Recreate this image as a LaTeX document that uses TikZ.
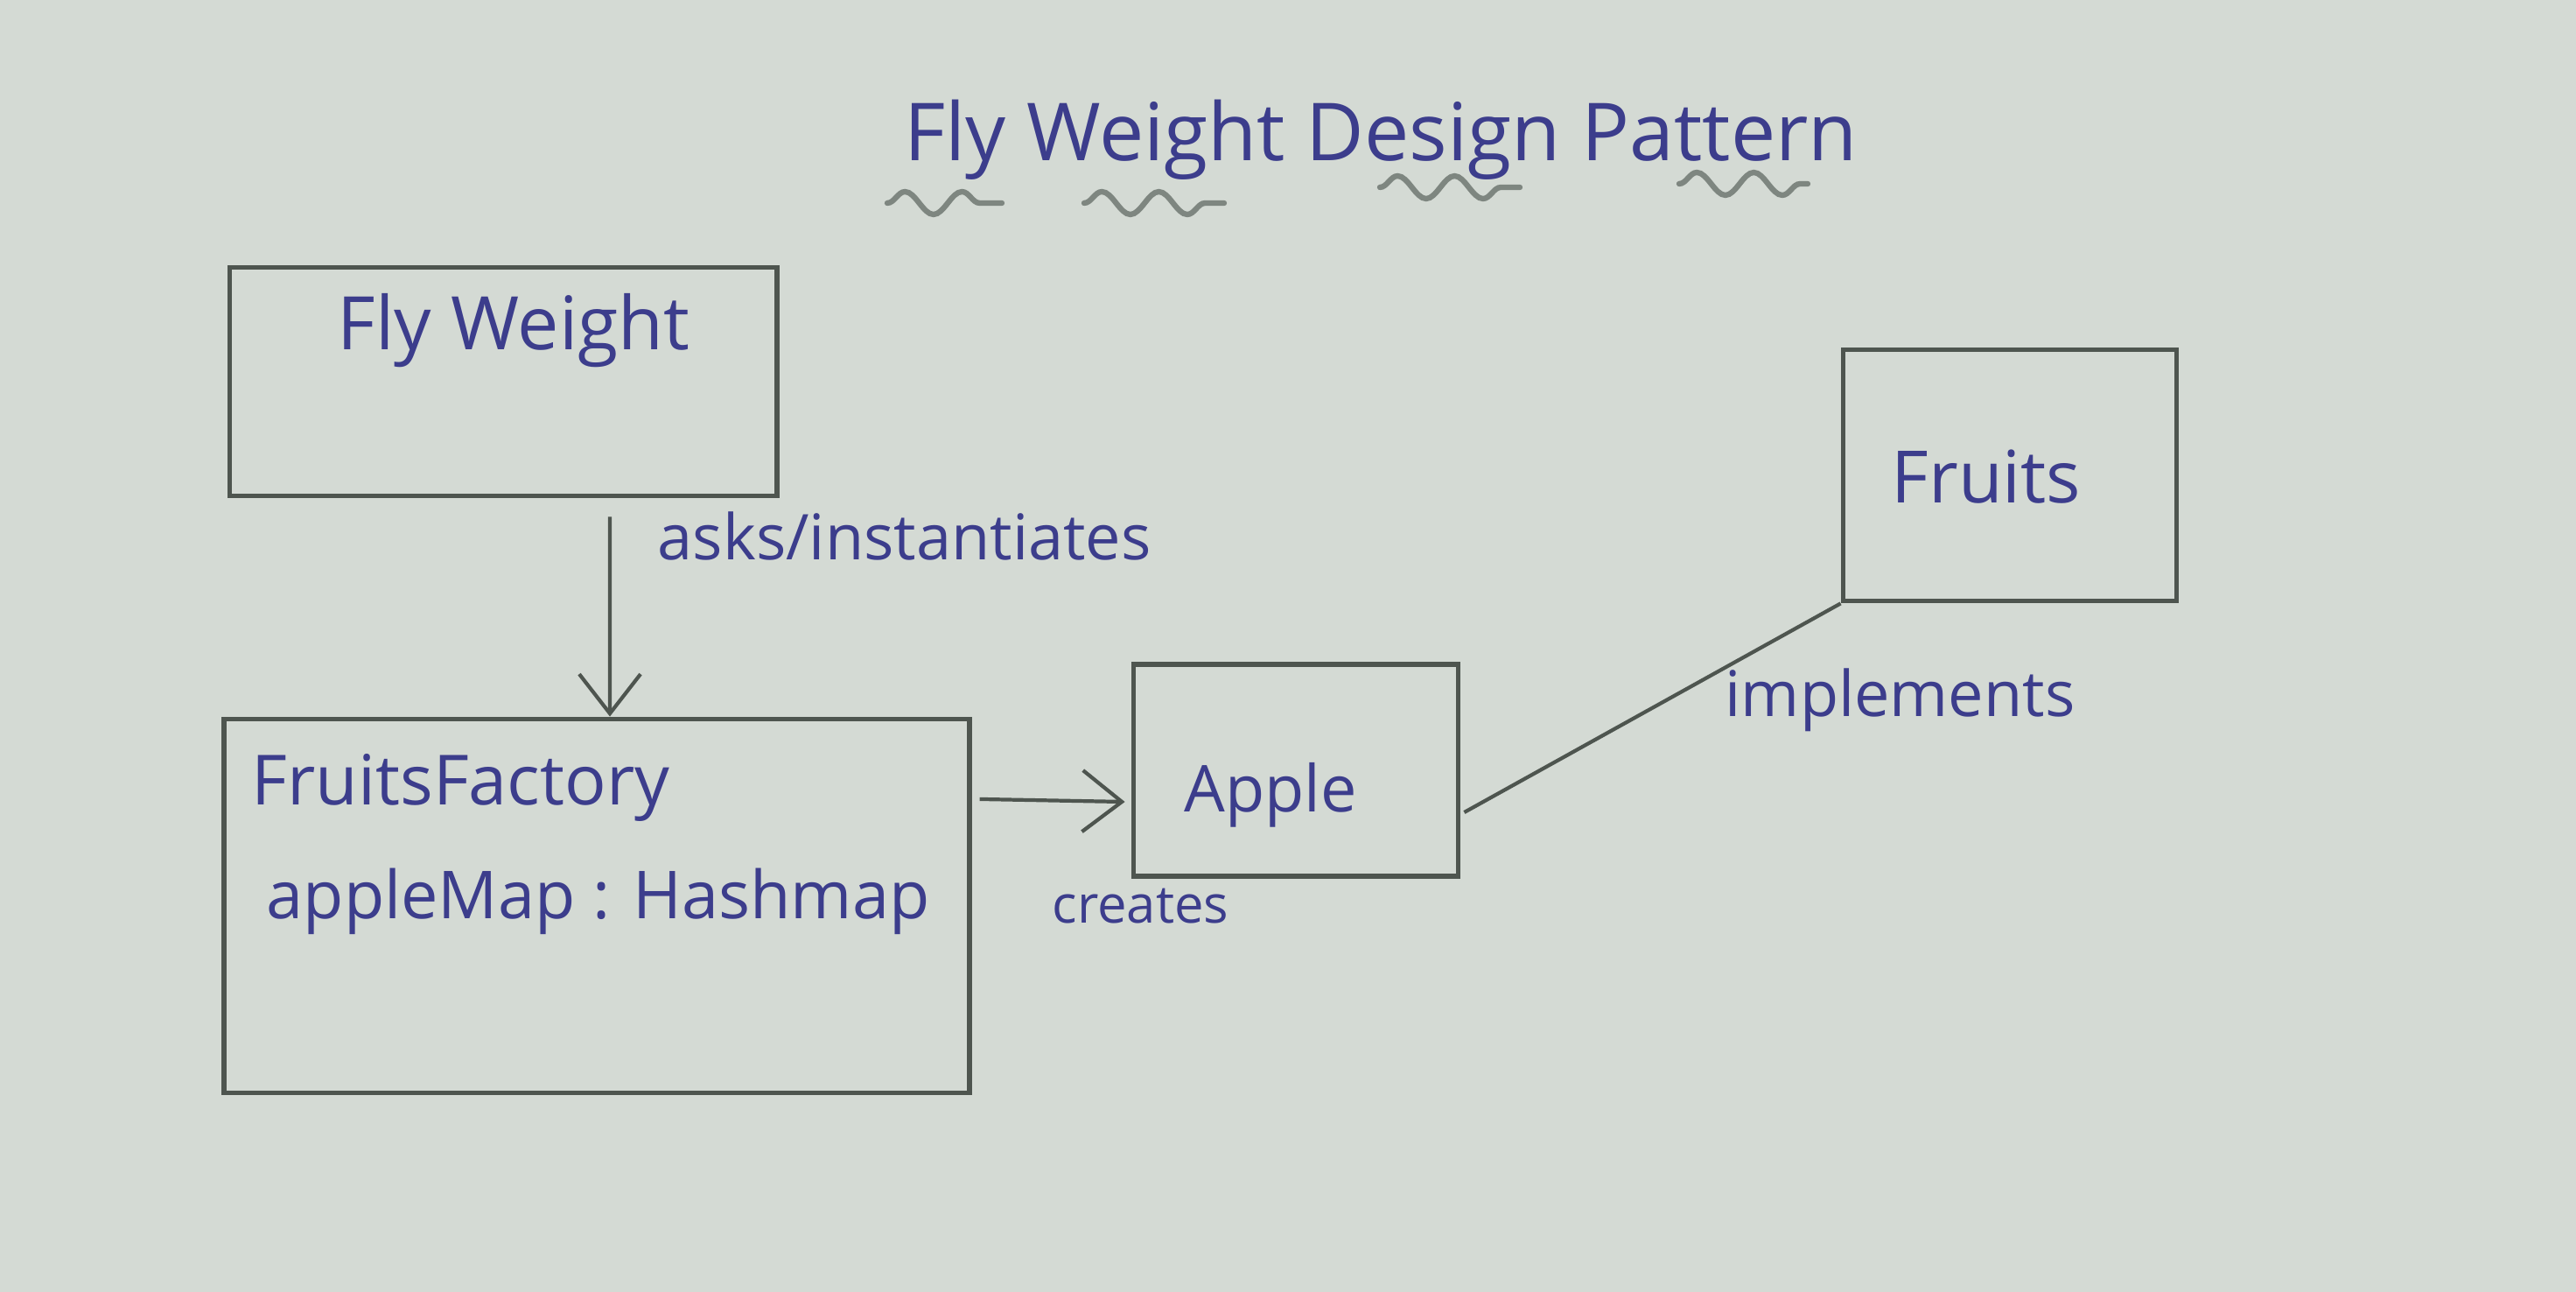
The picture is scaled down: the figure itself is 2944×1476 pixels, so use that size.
\documentclass[tikz,border=0pt]{standalone}
\usepackage{fontspec}
\setmainfont{Open Sans}
\usetikzlibrary{arrows.meta,decorations.pathmorphing,calc}
\definecolor{paper}{HTML}{D4DAD4}
\definecolor{ink}{HTML}{3C3D8C}
\definecolor{pencil}{HTML}{4E554F}
\definecolor{softpencil}{HTML}{7E8680}
\tikzset{
  box/.style={draw=pencil, line width=1.6pt, rectangle, inner sep=0pt},
  txt/.style={text=ink, inner sep=0pt},
  conn/.style={draw=pencil, line width=1.2pt},
  tip/.style={-{Straight Barb[length=4.5mm,width=7mm,line width=1.2pt]}},
  squiggle/.style={draw=softpencil, line width=1.8pt, line cap=round,
    decorate, decoration={snake, segment length=6.5mm, amplitude=1.3mm}}
}
\begin{document}
\begin{tikzpicture}[x=0.01cm,y=-0.01cm]
\fill[paper] (0,0) rectangle (2944,1476);
\useasboundingbox (0,0) rectangle (2944,1476);

% title
\node[txt, font=\fontsize{26}{30}\selectfont] (title) at (1578,160) {Fly Weight Design Pattern};
\draw[squiggle] (1014,232) -- (1145,232);
\draw[squiggle] (1239,232) -- (1399,232);
\draw[squiggle] (1577,214) -- (1737,214);
\draw[squiggle] (1919,210) -- (2066,210);

% boxes
\node[box, minimum width=6.25cm, minimum height=2.61cm] (fw) at (575,436) {};
\node[box, minimum width=8.51cm, minimum height=4.27cm] (ff) at (682,1035) {};
\node[box, minimum width=3.71cm, minimum height=2.42cm] (apple) at (1481,880) {};
\node[box, minimum width=3.81cm, minimum height=2.87cm] (fruits) at (2297,543) {};

% box texts
\node[txt, font=\fontsize{24}{28}\selectfont] (fwt) at (587,378) {Fly Weight};
\node[txt, font=\fontsize{22.5}{26}\selectfont, anchor=west] (fft) at (287,900) {FruitsFactory};
\node[txt, font=\fontsize{21.5}{26}\selectfont, anchor=west] (ffm) at (304,1030) {appleMap : Hashmap};
\node[txt, font=\fontsize{21}{26}\selectfont] (applet) at (1452,908) {Apple};
\node[txt, font=\fontsize{23.5}{28}\selectfont] (fruitst) at (2270,545) {Fruits};

% connectors
\draw[conn, tip] ([xshift=1.22cm,yshift=-0.21cm]fw.south) -- ([xshift=0.15cm]ff.north);
\draw[conn, tip] ([xshift=0.09cm,yshift=1.22cm]ff.east) -- ([xshift=-0.07cm,yshift=-0.36cm]apple.west);
\draw[conn] ([xshift=0.04cm,yshift=-0.48cm]apple.east) -- (fruits.south west);

% connector labels
\node[txt, font=\fontsize{20.5}{24}\selectfont, anchor=west] (asks) at (751,612) {asks/instantiates};
\node[txt, font=\fontsize{17}{20}\selectfont, anchor=west] (creates) at (1202,1035) {creates};
\node[txt, font=\fontsize{20.5}{24}\selectfont, anchor=west] (impl) at (1971,800) {implements};
\end{tikzpicture}
\end{document}
